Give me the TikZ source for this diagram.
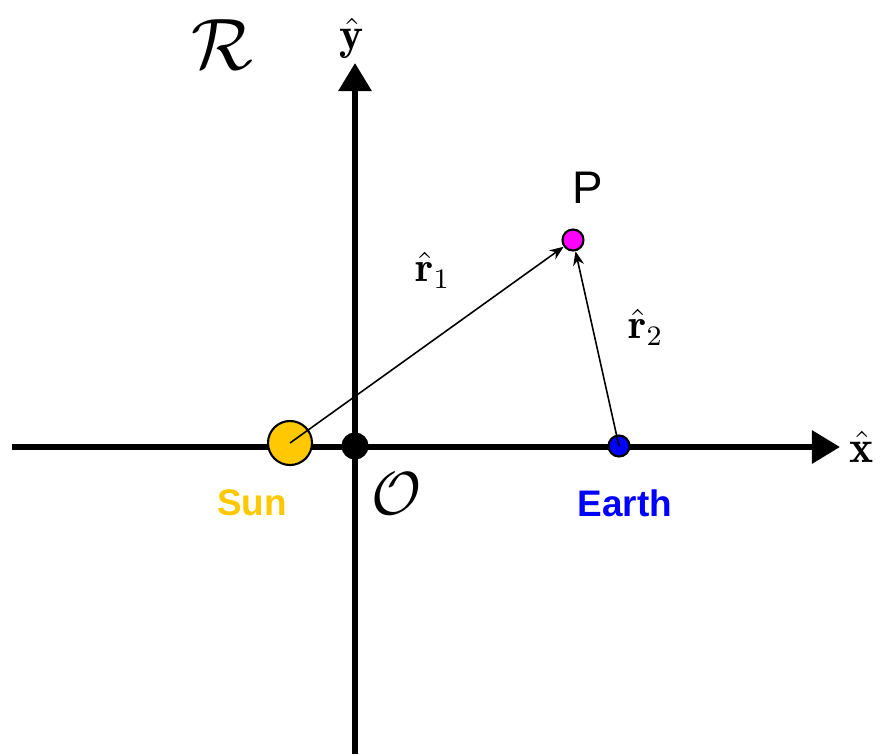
\documentclass[tikz,border=0pt]{standalone}
\usepackage{fontspec}
\usepackage{amsmath}
\newfontfamily\arialfont{Liberation Sans}
\usetikzlibrary{arrows.meta}

\definecolor{sunyellow}{RGB}{255,200,0}
\definecolor{earthblue}{RGB}{0,0,255}
\definecolor{pmagenta}{RGB}{255,0,255}

\begin{document}
\begin{tikzpicture}[x=0.01cm, y=-0.01cm,
  axis/.style={line width=1.7pt, -{Triangle[length=0.28cm, width=0.32cm]}},
  body/.style={draw, circle, line width=0.6pt, inner sep=0pt},
  vec/.style={line width=0.45pt, -{Stealth[length=0.14cm, width=0.11cm]}}]
\useasboundingbox (0,0) rectangle (882,754);
% axes
\coordinate (xstart) at (12,447);
\coordinate (xend) at (840,447);
\coordinate (ystart) at (355,754);
\coordinate (yend) at (355,63);
\draw[axis] (xstart) -- (xend);
\draw[axis] (ystart) -- (yend);
% bodies
\node[body, fill=black, minimum size=0.25cm] (origin) at (355,446) {};
\node[body, fill=sunyellow, minimum size=0.44cm] (sun) at (290,443) {};
\node[body, fill=earthblue, minimum size=0.21cm] (earth) at (619,446) {};
\node[body, fill=pmagenta, minimum size=0.21cm] (p) at (573,240) {};
% vectors
\draw[vec] (sun.center) -- (p);
\draw[vec] (earth.center) -- (p);
% labels
\node (xhat) at (862,447) {\fontsize{13}{13}\selectfont$\hat{\mathbf{x}}$};
\node (yhat) at (352,38) {\fontsize{13}{13}\selectfont$\hat{\mathbf{y}}$};
\node (frame) at (222,45) {\fontsize{22}{22}\selectfont$\mathcal{R}$};
\node (olabel) at (397,494) {\fontsize{16}{16}\selectfont$\mathcal{O}$};
\node (plabel) at (588,188) {\arialfont\fontsize{13}{13}\selectfont P};
\node[text=sunyellow] (sunlabel) at (252,503) {\arialfont\bfseries\fontsize{10.5}{10.5}\selectfont Sun};
\node[text=earthblue] (earthlabel) at (625,503) {\arialfont\bfseries\fontsize{10.5}{10.5}\selectfont Earth};
\node (r1) at (433,270) {\fontsize{12}{12}\selectfont$\hat{\mathbf{r}}_1$};
\node (r2) at (646,327) {\fontsize{12}{12}\selectfont$\hat{\mathbf{r}}_2$};
\end{tikzpicture}
\end{document}
